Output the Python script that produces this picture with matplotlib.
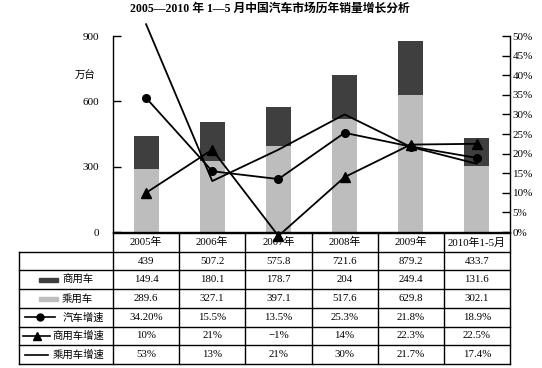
import matplotlib
matplotlib.use('Agg')
import matplotlib.pyplot as plt
import numpy as np

plt.rcParams['font.family'] = ['Liberation Serif', 'Noto Sans CJK SC', 'DejaVu Sans']

# data
years = ['2005年', '2006年', '2007年', '2008年', '2009年', '2010年1-5月']
totals = [439, 507.2, 575.8, 721.6, 879.2, 433.7]
commercial = [149.4, 180.1, 178.7, 204, 249.4, 131.6]
passenger = [289.6, 327.1, 397.1, 517.6, 629.8, 302.1]
auto_speed = [34.2, 15.5, 13.5, 25.3, 21.8, 18.9]
comm_speed = [10, 21, -1, 14, 22.3, 22.5]
pass_speed = [53, 13, 21, 30, 21.7, 17.4]
auto_speed_lbl = ['34.20%', '15.5%', '13.5%', '25.3%', '21.8%', '18.9%']
comm_speed_lbl = ['10%', '21%', '−1%', '14%', '22.3%', '22.5%']
pass_speed_lbl = ['53%', '13%', '21%', '30%', '21.7%', '17.4%']

DARK = '#3f3f3f'
LIGHT = '#bdbdbd'

W, H = 542, 368
fig = plt.figure(figsize=(W / 100, H / 100), dpi=100)

# plot area in pixels
L, R, T, B = 113, 510, 36, 232
ax = fig.add_axes([L / W, 1 - B / H, (R - L) / W, (B - T) / H])
x = np.arange(len(years))
ax.bar(x, passenger, width=0.38, color=LIGHT, zorder=1)
ax.bar(x, commercial, width=0.38, bottom=passenger, color=DARK, zorder=1)
ax.set_xlim(-0.5, len(years) - 0.5)
ax.set_ylim(0, 900)
ax.set_yticks([0, 300, 600, 900])
ax.set_xticks([])
ax.tick_params(axis='y', direction='in', length=6, width=1, pad=10, labelsize=8)
ax.spines['top'].set_visible(False)
ax.spines['right'].set_visible(False)
for s in ax.spines.values():
    s.set_linewidth(1)

ax2 = ax.twinx()
ax2.set_ylim(0, 50)
ax2.set_yticks(range(0, 51, 5))
ax2.set_yticklabels([f'{v}%' for v in range(0, 51, 5)])
ax2.tick_params(axis='y', direction='in', length=6, width=1, pad=2, labelsize=8)
ax2.spines['top'].set_visible(False)
ax2.spines['left'].set_visible(False)
ax2.spines['bottom'].set_visible(False)
ax2.spines['right'].set_linewidth(1)
ax2.plot(x, pass_speed, color='black', lw=1.3, clip_on=False)
ax2.plot(x, auto_speed, color='black', lw=1.3, marker='o', ms=5.5, clip_on=False)
ax2.plot(x, comm_speed, color='black', lw=1.3, marker='^', ms=6.5, clip_on=False)

fig.text(270 / W, 1 - 9 / H, '2005—2010 年 1—5 月中国汽车市场历年销量增长分析',
         ha='center', va='center', fontsize=8.5, fontweight='bold')
fig.text(85 / W, 1 - 75 / H, '万台', ha='center', va='center', fontsize=7.5)

# table overlay in pixel coordinates
tb = fig.add_axes([0, 0, 1, 1])
tb.set_xlim(0, W)
tb.set_ylim(H, 0)
tb.axis('off')
tb.patch.set_alpha(0)

n = len(years)
colw = (R - L) / n
col_edges = [L + i * colw for i in range(n + 1)]
row_edges = list(np.linspace(233, 364, 8))
lx = 19

# header row (data columns only)
tb.plot([L, R], [row_edges[0], row_edges[0]], color='black', lw=1)
for ce in col_edges:
    tb.plot([ce, ce], [row_edges[0], row_edges[-1]], color='black', lw=1)
for ry in row_edges[1:]:
    tb.plot([lx, R], [ry, ry], color='black', lw=1)
tb.plot([lx, lx], [row_edges[1], row_edges[-1]], color='black', lw=1)

rows = [years,
        [f'{v:g}' for v in totals],
        [f'{v:g}' for v in commercial],
        [f'{v:g}' for v in passenger],
        auto_speed_lbl, comm_speed_lbl, pass_speed_lbl]
for r, vals in enumerate(rows):
    cy = (row_edges[r] + row_edges[r + 1]) / 2
    for i, v in enumerate(vals):
        tb.text(L + (i + 0.5) * colw, cy, v, ha='center', va='center', fontsize=7.8)

# legend symbols in first column
rc = [(row_edges[r] + row_edges[r + 1]) / 2 for r in range(7)]
tb.add_patch(plt.Rectangle((39, rc[2] - 2), 19, 4, color=DARK))
tb.text(62, rc[2], '商用车', ha='left', va='center', fontsize=7.5)
tb.add_patch(plt.Rectangle((39, rc[3] - 2), 19, 4, color=LIGHT))
tb.text(62, rc[3], '乘用车', ha='left', va='center', fontsize=7.5)
tb.plot([25, 55], [rc[4], rc[4]], color='black', lw=1.2)
tb.plot([40], [rc[4]], marker='o', ms=5, color='black')
tb.text(63, rc[4], '汽车增速', ha='left', va='center', fontsize=7.5)
tb.plot([23, 50], [rc[5], rc[5]], color='black', lw=1.2)
tb.plot([37], [rc[5]], marker='^', ms=6, color='black')
tb.text(52, rc[5], '商用车增速', ha='left', va='center', fontsize=7.5)
tb.plot([25, 48], [rc[6], rc[6]], color='black', lw=1.2)
tb.text(53, rc[6], '乘用车增速', ha='left', va='center', fontsize=7.5)

fig.savefig('out.png', dpi=100)
